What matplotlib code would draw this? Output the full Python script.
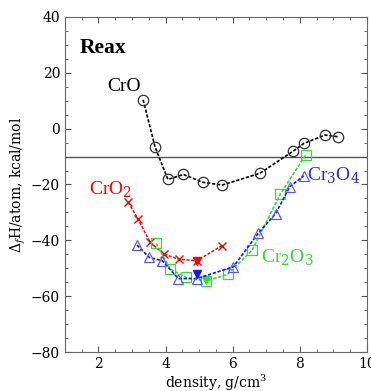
import numpy as np
import matplotlib.pyplot as plt
from matplotlib.ticker import MultipleLocator

# CrO
cro_x = [3.33, 3.69, 4.07, 4.53, 5.10, 5.69, 6.81, 7.81, 8.12, 8.75, 9.13]
cro_y = [10.3, -6.7, -18.2, -16.4, -19.2, -20.2, -16.0, -8.0, -5.3, -2.3, -2.9]
# CrO2
cro2_x = [2.89, 3.17, 3.53, 3.94, 4.40, 4.93, 5.67]
cro2_y = [-26.4, -32.2, -40.5, -44.9, -46.8, -47.3, -42.0]
cro2_min = (4.93, -47.3)
# Cr3O4
cr3o4_x = [3.15, 3.51, 3.90, 4.38, 4.93, 6.02, 6.76, 7.28, 7.70, 8.12]
cr3o4_y = [-41.7, -46.1, -47.3, -53.7, -53.7, -49.5, -37.5, -30.4, -20.8, -16.9]
cr3o4_min = (4.93, -51.9)
# Cr2O3
cr2o3_x = [3.72, 4.14, 4.61, 5.20, 5.85, 6.58, 7.42, 8.17]
cr2o3_y = [-41.1, -50.3, -53.3, -54.6, -52.2, -43.5, -23.4, -9.5]
cr2o3_min = (5.20, -54.2)

green = '#33dd33'
plt.rcParams['mathtext.fontset'] = 'dejavuserif'
fig = plt.figure(figsize=(3.71, 3.91), dpi=100)
ax = fig.add_axes([0.175, 0.0997, 0.814, 0.857])

ax.axhline(-10, color='#555555', lw=1)

ax.plot(cro_x, cro_y, '--', color='black', lw=1.2, dashes=(2, 1),
        marker='o', ms=7.5, mfc='none', mec='#333333', mew=0.9)
ax.plot(cro2_x, cro2_y, '--', color='red', lw=1.1, dashes=(2, 1),
        marker='x', ms=6, mec='red', mew=1)
ax.plot(*cro2_min, marker='v', ms=6, color='red')
ax.plot(cr2o3_x, cr2o3_y, '--', color=green, lw=1.2, dashes=(2, 1),
        marker='s', ms=7, mfc='none', mec=green, mew=0.9)
ax.plot(*cr2o3_min, marker='v', ms=6, color=green)
ax.plot(cr3o4_x, cr3o4_y, '--', color='#1515ee', lw=1.2, dashes=(2, 1),
        marker='^', ms=7, mfc='none', mec='#5a5aff', mew=0.9)
ax.plot(*cr3o4_min, marker='v', ms=6, color='#1515ee')

tfont = 'Liberation Serif'
ax.text(1.45, 29, 'Reax', fontsize=15.5, fontweight='bold', family=tfont, va='center')
ax.text(2.75, 15, 'CrO', fontsize=14, family=tfont, ha='center', va='center')
ax.text(2.35, -21.5, r'CrO$_2$', fontsize=14, family=tfont, color='red',
        ha='center', va='center')
ax.text(8.22, -16.5, r'Cr$_3$O$_4$', fontsize=14, family=tfont, color='#2a2aff',
        va='center')
ax.text(6.85, -46, r'Cr$_2$O$_3$', fontsize=14, family=tfont, color=green,
        va='center')

ax.set_xlim(1, 10)
ax.set_ylim(-80, 40)
ax.xaxis.set_major_locator(MultipleLocator(2))
ax.xaxis.set_minor_locator(MultipleLocator(0.5))
ax.yaxis.set_major_locator(MultipleLocator(20))
ax.yaxis.set_minor_locator(MultipleLocator(5))
ax.tick_params(which='both', direction='in', top=True, right=True,
               color='#555555', labelsize=10, labelfontfamily='DejaVu Serif')
ax.tick_params(which='major', length=4)
ax.tick_params(which='minor', length=2.5)
for s in ax.spines.values():
    s.set_color('#666666')
ax.set_xlabel('density, g/cm$^3$', family='DejaVu Serif', fontsize=10, labelpad=1)
ax.set_ylabel(r'$\Delta_f$H/atom, kcal/mol', family='DejaVu Serif', fontsize=10, labelpad=2)

fig.savefig('out.png', dpi=100)
